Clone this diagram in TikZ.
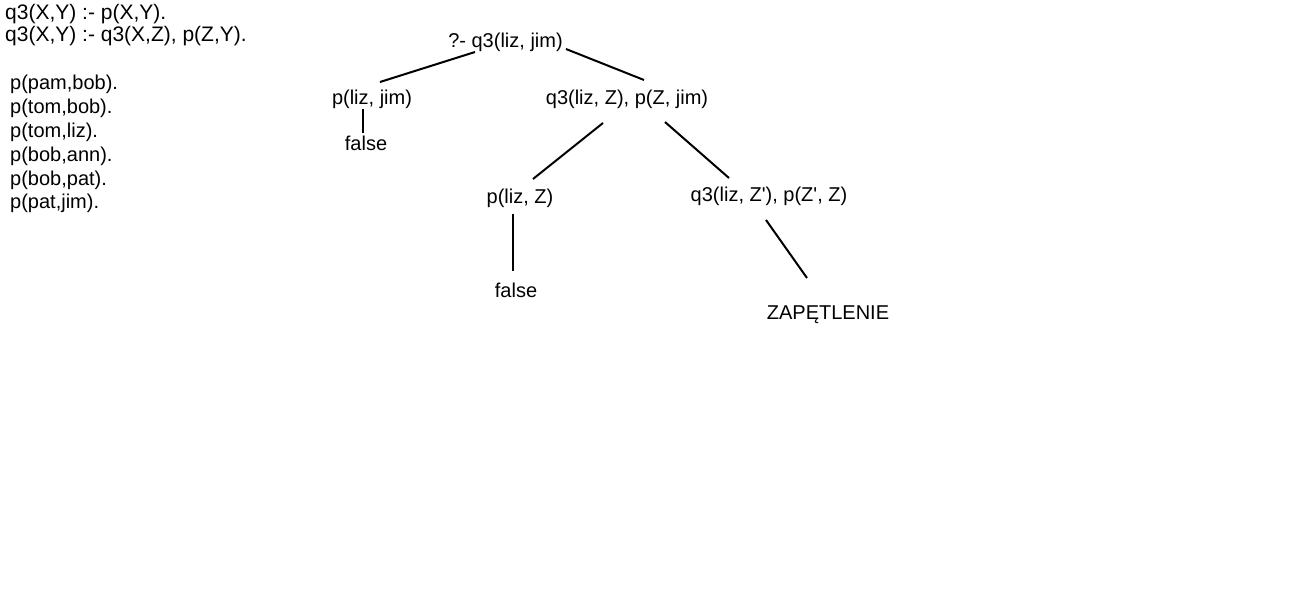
\documentclass[tikz,border=0pt]{standalone}
\usepackage{fontspec}
\setmainfont{Liberation Sans}
\usepackage{tikz}
\tikzset{>=latex}
\tikzset{
  goal/.style={anchor=base, inner sep=0pt, font=\fontsize{20}{24}\selectfont},
  clause/.style={anchor=base west, inner sep=0pt, font=\fontsize{20}{24}\selectfont},
  rule/.style={clause, font=\fontsize{21}{25}\selectfont},
  edge/.style={line width=2pt}
}

\begin{document}
\begin{tikzpicture}[x=1pt, y=-1pt]
        \useasboundingbox (0, 0) rectangle (1300, 600);
        % program
        \node[rule] (rule1) at (5, 19) {q3(X,Y) :- p(X,Y).};
        \node[rule] (rule2) at (5, 41) {q3(X,Y) :- q3(X,Z), p(Z,Y).};
        \node[clause] (fact1) at (10, 89) {p(pam,bob).};
        \node[clause] (fact2) at (10, 113) {p(tom,bob).};
        \node[clause] (fact3) at (10, 137) {p(tom,liz).};
        \node[clause] (fact4) at (10, 161) {p(bob,ann).};
        \node[clause] (fact5) at (10, 185) {p(bob,pat).};
        \node[clause] (fact6) at (10, 208) {p(pat,jim).};
        % tree
        \node[goal] (root) at (505.5, 47) {?- q3(liz, jim)};
        \node[goal] (pliz) at (372, 104) {p(liz, jim)};
        \node[goal] (false1) at (366, 150) {false};
        \node[goal] (qz) at (627, 104) {q3(liz, Z), p(Z, jim)};
        \node[goal] (plizz) at (520, 203) {p(liz, Z)};
        \node[goal] (qzz) at (769, 201) {q3(liz, Z\textquotesingle), p(Z\textquotesingle, Z)};
        \node[goal] (false2) at (516, 297) {false};
        \node[goal] (loop) at (828, 319) {ZAPĘTLENIE};
        \draw[edge] ([shift={(8,-22)}]pliz.base) -- ([shift={(-30.5,5)}]root.base);
        \draw[edge] ([shift={(60.5,2)}]root.base) -- ([shift={(17,-24)}]qz.base);
        \draw[edge] ([shift={(-9,5)}]pliz.base) -- ([shift={(-3,-17)}]false1.base);
        \draw[edge] ([shift={(-24,19)}]qz.base) -- ([shift={(13,-24)}]plizz.base);
        \draw[edge] ([shift={(38,18)}]qz.base) -- ([shift={(-40,-23)}]qzz.base);
        \draw[edge] ([shift={(-7,11)}]plizz.base) -- ([shift={(-3,-26)}]false2.base);
        \draw[edge] ([shift={(-3,19)}]qzz.base) -- ([shift={(-21,-41)}]loop.base);
      \end{tikzpicture}
\end{document}
